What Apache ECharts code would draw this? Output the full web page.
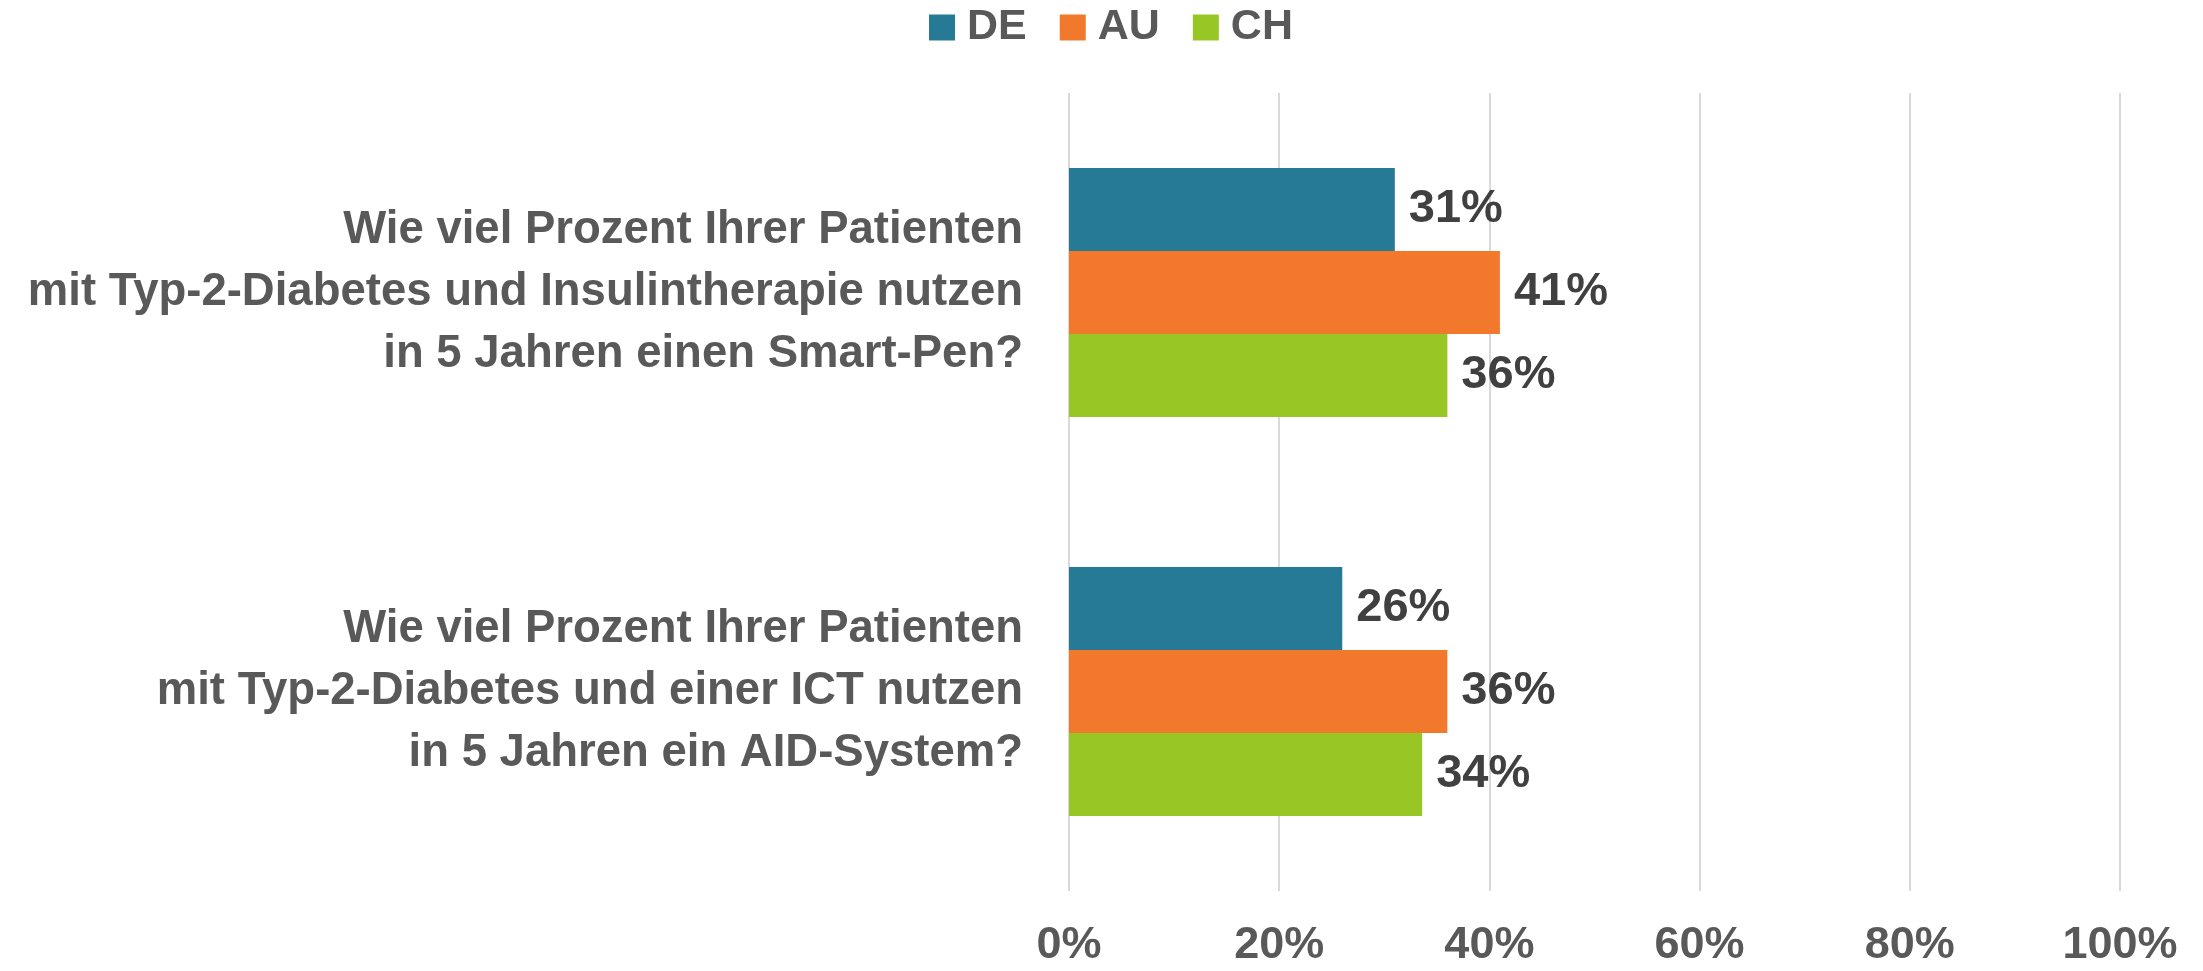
<!DOCTYPE html>
<html>
<head>
<meta charset="utf-8">
<script src="https://cdn.jsdelivr.net/npm/echarts@6/dist/echarts.min.js"></script>
<style>
  html, body { margin: 0; padding: 0; background: #fff; }
  #chart { width: 2203px; height: 971px; }
</style>
</head>
<body>
<div id="chart"></div>
<script>
// Daten
var categories = [
    'Wie viel Prozent Ihrer Patienten\nmit Typ-2-Diabetes und Insulintherapie nutzen\nin 5 Jahren einen Smart-Pen?',
    'Wie viel Prozent Ihrer Patienten\nmit Typ-2-Diabetes und einer ICT nutzen\nin 5 Jahren ein AID-System?'
];
var seriesNames = ['DE', 'AU', 'CH'];
var valuesDE = [31, 26];
var valuesAU = [41, 36];
var valuesCH = [36, 33.6];
var xTicks = [0, 20, 40, 60, 80, 100];

var colors = ['#277A96', '#F2792C', '#97C625'];
var font = '"Liberation Sans", Arial, sans-serif';

var chart = echarts.init(document.getElementById('chart'));

function barSeries(name, data) {
    return {
        name: name,
        type: 'bar',
        data: data,
        barGap: '0%',
        barCategoryGap: '37.6%',
        label: {
            show: true,
            position: 'right',
            distance: 14,
            color: '#404040',
            fontFamily: font,
            fontWeight: 'bold',
            fontSize: 47,
            formatter: function (p) { return Math.round(p.value) + '%'; }
        }
    };
}

var option = {
    color: colors,
    animation: false,
    legend: {
        left: 924,
        top: 1,
        icon: 'rect',
        itemWidth: 26,
        itemHeight: 26,
        itemGap: 33,
        data: seriesNames,
        textStyle: {
            color: '#595959',
            fontFamily: font,
            fontWeight: 'bold',
            fontSize: 43,
            padding: [0, 0, 0, 7]
        }
    },
    grid: {
        left: 1069,
        right: 83,
        top: 93,
        bottom: 80,
        containLabel: false,
        outerBoundsMode: 'none'
    },
    xAxis: {
        type: 'value',
        min: xTicks[0],
        max: xTicks[xTicks.length - 1],
        interval: xTicks[1] - xTicks[0],
        axisLine: { show: false },
        axisTick: { show: false },
        splitLine: { show: true, lineStyle: { color: '#D9D9D9', width: 2 } },
        axisLabel: {
            margin: 32,
            color: '#595959',
            fontFamily: font,
            fontWeight: 'bold',
            fontSize: 45,
            formatter: '{value}%'
        }
    },
    yAxis: {
        type: 'category',
        inverse: true,
        data: categories,
        axisLine: { show: false },
        axisTick: { show: false },
        axisLabel: {
            margin: 46,
            align: 'right',
            color: '#595959',
            fontFamily: font,
            fontWeight: 'bold',
            fontSize: 45.5,
            lineHeight: 62
        }
    },
    series: [
        barSeries(seriesNames[0], valuesDE),
        barSeries(seriesNames[1], valuesAU),
        barSeries(seriesNames[2], valuesCH)
    ]
};

chart.setOption(option);
</script>
</body>
</html>
